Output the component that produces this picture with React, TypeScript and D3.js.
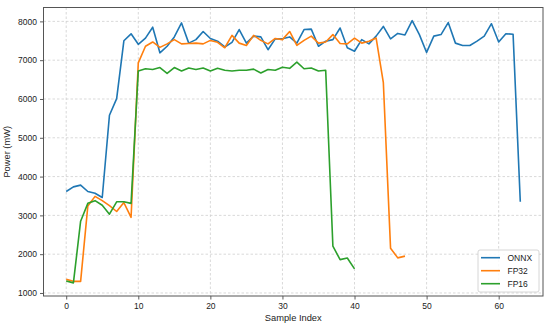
import React, { useEffect, useRef } from "react";
import * as d3 from "d3";

const onnx = [
  3615, 3735, 3780, 3615, 3570, 3460, 5580, 6010, 7500, 7680,
  7410, 7570, 7850, 7190, 7360, 7600, 7960, 7440, 7530, 7740,
  7560, 7490, 7340, 7460, 7790, 7440, 7620, 7600, 7270, 7550,
  7550, 7600, 7440, 7790, 7800, 7360, 7490, 7530, 7830, 7320,
  7230, 7530, 7420, 7620, 7870, 7550, 7690, 7650, 8020, 7660,
  7200, 7620, 7660, 7970, 7440, 7380, 7380, 7490, 7620, 7940,
  7470, 7680, 7670, 3350
];
const fp32 = [
  1350, 1300, 1300, 3240, 3490, 3380, 3250, 3100, 3330, 2950,
  6930, 7360, 7470, 7330, 7420, 7530, 7420, 7430, 7440, 7420,
  7510, 7460, 7320, 7640, 7440, 7380, 7640, 7510, 7420, 7560,
  7530, 7740, 7380, 7510, 7620, 7440, 7470, 7660, 7430, 7420,
  7570, 7440, 7490, 7570, 6420, 2150, 1905, 1950
];
const fp16 = [
  1310, 1260, 2850, 3310, 3380, 3260, 3030, 3350, 3350, 3310,
  6720, 6780, 6760, 6810, 6660, 6810, 6720, 6800, 6760, 6800,
  6720, 6790, 6740, 6720, 6740, 6740, 6770, 6670, 6760, 6740,
  6820, 6790, 6950, 6780, 6800, 6720, 6740, 2205, 1860, 1900,
  1620
];
const seriesNames = ["ONNX", "FP32", "FP16"];
const seriesColors = ["#1f77b4", "#ff7f0e", "#2ca02c"];
const xTicks = [0, 10, 20, 30, 40, 50, 60];
const yTicks = [1000, 2000, 3000, 4000, 5000, 6000, 7000, 8000];

const W = 550;
const H = 328;
const M = { left: 43.5, right: 7, top: 7.5, bottom: 32 };

export default function App() {
  const ref = useRef<SVGSVGElement>(null);

  useEffect(() => {
    const svg = d3.select(ref.current);
    svg.selectAll("*").remove();
    const font = "'Liberation Sans', Arial, sans-serif";
    const iw = W - M.left - M.right;
    const ih = H - M.top - M.bottom;

    const x = d3.scaleLinear().domain([-3.15, 66.15]).range([0, iw]);
    const y = d3.scaleLinear().domain([922, 8358]).range([ih, 0]);

    const g = svg.append("g").attr("transform", `translate(${M.left},${M.top})`);

    // grid
    const grid = g.append("g");
    xTicks.forEach((t) => {
      grid.append("line")
        .attr("x1", x(t)).attr("x2", x(t)).attr("y1", 0).attr("y2", ih)
        .attr("stroke", "#cfcfcf").attr("stroke-width", 0.8).attr("stroke-dasharray", "2.5,2");
    });
    yTicks.forEach((t) => {
      grid.append("line")
        .attr("x1", 0).attr("x2", iw).attr("y1", y(t)).attr("y2", y(t))
        .attr("stroke", "#cfcfcf").attr("stroke-width", 0.8).attr("stroke-dasharray", "2.5,2");
    });

    const all = [onnx, fp32, fp16];
    const line = d3.line<number>().x((_, i) => x(i)).y((d) => y(d));
    all.forEach((s, k) => {
      g.append("path")
        .datum(s)
        .attr("d", line)
        .attr("fill", "none")
        .attr("stroke", seriesColors[k])
        .attr("stroke-width", 1.6)
        .attr("stroke-linejoin", "round");
    });

    // axes
    const xa = g.append("g").attr("transform", `translate(0,${ih})`)
      .call(d3.axisBottom(x).tickValues(xTicks).tickSize(3.5).tickPadding(3).tickFormat(d3.format("d")));
    const ya = g.append("g")
      .call(d3.axisLeft(y).tickValues(yTicks).tickSize(3.5).tickPadding(3).tickFormat(d3.format("d")));
    [xa, ya].forEach((a) => {
      a.select(".domain").remove();
      a.selectAll("line").attr("stroke", "#333").attr("stroke-width", 0.8);
      a.selectAll("text").attr("fill", "#222").style("font-family", font).style("font-size", "8.5px");
    });

    // frame
    g.append("rect")
      .attr("x", 0).attr("y", 0).attr("width", iw).attr("height", ih)
      .attr("fill", "none").attr("stroke", "#555").attr("stroke-width", 1);

    g.append("text")
      .attr("x", iw / 2).attr("y", ih + 25)
      .attr("text-anchor", "middle")
      .style("font-family", font).style("font-size", "9.3px").attr("fill", "#222")
      .text("Sample Index");
    g.append("text")
      .attr("transform", `translate(${-34},${ih / 2}) rotate(-90)`)
      .attr("text-anchor", "middle")
      .style("font-family", font).style("font-size", "9.3px").attr("fill", "#222")
      .text("Power (mW)");

    // legend
    const lg = g.append("g").attr("transform", `translate(${478 - M.left},${250 - M.top})`);
    lg.append("rect")
      .attr("width", 61).attr("height", 42).attr("rx", 2)
      .attr("fill", "white").attr("fill-opacity", 0.85)
      .attr("stroke", "#cccccc").attr("stroke-width", 0.8);
    seriesNames.forEach((n, k) => {
      const yy = 7.7 + k * 13;
      lg.append("line")
        .attr("x1", 3).attr("x2", 22).attr("y1", yy).attr("y2", yy)
        .attr("stroke", seriesColors[k]).attr("stroke-width", 1.6);
      lg.append("text")
        .attr("x", 29.5).attr("y", yy).attr("dy", "0.35em")
        .style("font-family", font).style("font-size", "8.5px").attr("fill", "#222")
        .text(n);
    });
  }, []);

  return (
    <svg ref={ref} width={W} height={H} style={{ position: "absolute", left: 0, top: 0, background: "white" }} />
  );
}
